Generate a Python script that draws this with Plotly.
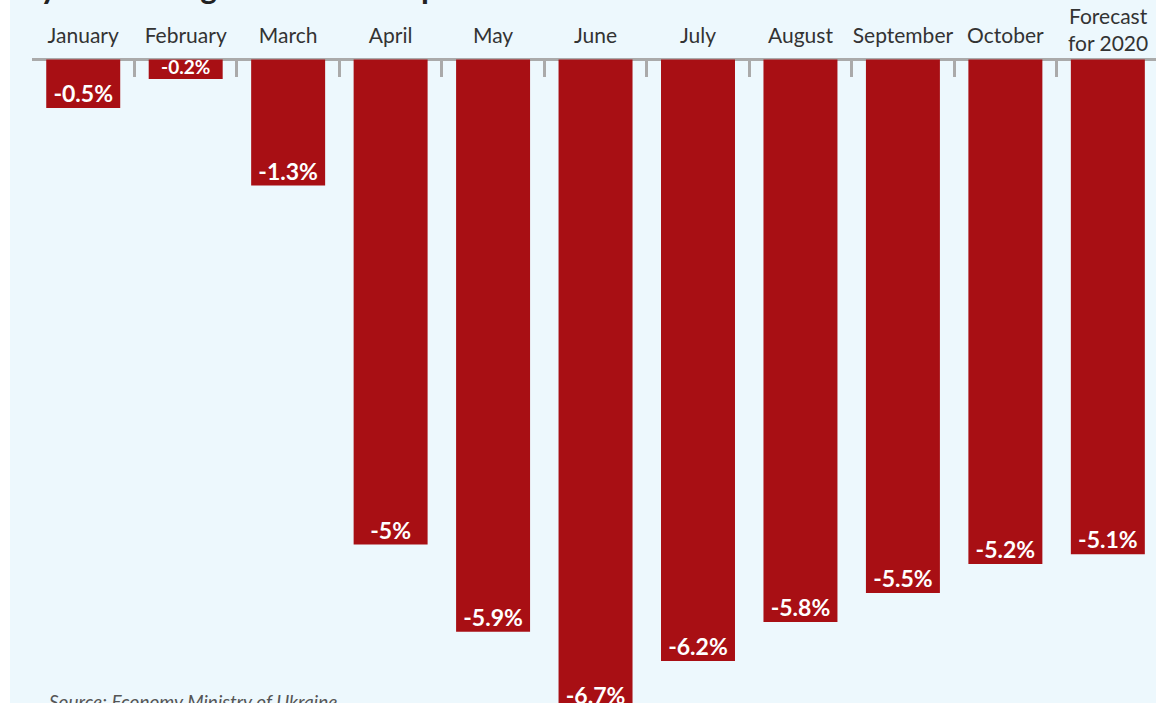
import plotly.graph_objects as go

# Month-on-month change of Ukraine's GDP in 2020, per cent
months = ["January", "February", "March", "April", "May", "June",
          "July", "August", "September", "October", "Forecast<br>for 2020"]
gdp_change = [-0.5, -0.2, -1.3, -5.0, -5.9, -6.7, -6.2, -5.8, -5.5, -5.2, -5.1]
bar_labels = [f"{v:g}%" for v in gdp_change]

title_text = "Dynamics of gross domestic product from month to month"
source_text = "Source: Economy Ministry of Ukraine"

BG = "#EDF8FD"
BAR = "#A80F14"
AXIS_GREY = "#AAAAAA"
TEXT_DARK = "#333333"
FONT = "Lato"

W, H = 1156, 703
ML, MT = 32, 58
PLOT_W = W - ML

# very short bars get a slightly smaller value label so it stays inside
label_sizes = [19 if abs(v) < 0.3 else 23 for v in gdp_change]

# two-line category names are written separately, hanging lower than the rest
axis_text = [m if "<br>" not in m else "" for m in months]

fig = go.Figure()

fig.add_trace(go.Bar(
    x=months,
    y=gdp_change,
    marker=dict(color=BAR, line=dict(width=0)),
    hoverinfo="skip",
))

# value labels sitting just inside the end of each bar
fig.add_trace(go.Scatter(
    x=months,
    y=gdp_change,
    mode="text",
    text=bar_labels,
    textposition="top center",
    textfont=dict(family=FONT, size=label_sizes, color="white", weight="bold"),
    cliponaxis=True,
    hoverinfo="skip",
))

fig.update_layout(
    width=W,
    height=H,
    margin=dict(l=ML, r=0, t=MT, b=0, pad=0, autoexpand=False),
    paper_bgcolor=BG,
    plot_bgcolor=BG,
    showlegend=False,
    bargap=0.278,
    font=dict(family=FONT, color=TEXT_DARK),
    xaxis=dict(
        side="top",
        type="category",
        range=[-0.5, 10.47],
        tickmode="array",
        tickvals=months,
        ticktext=axis_text,
        automargin=False,
        tickangle=0,
        showgrid=False,
        showline=False,
        zeroline=False,
        ticks="inside",
        tickson="boundaries",
        ticklen=19,
        tickwidth=2.5,
        tickcolor=AXIS_GREY,
        ticklabelstandoff=10,
        tickfont=dict(family=FONT, size=21, color=TEXT_DARK),
        fixedrange=True,
    ),
    yaxis=dict(
        range=[-6.634, 0.0155],
        automargin=False,
        showgrid=False,
        showticklabels=False,
        ticks="",
        showline=False,
        zeroline=True,
        zerolinecolor=AXIS_GREY,
        zerolinewidth=3,
        fixedrange=True,
    ),
)

for m in months:
    if "<br>" in m:
        fig.add_annotation(
            text=m, xref="x", yref="paper", x=m, y=1,
            xanchor="center", yanchor="bottom", yshift=1,
            showarrow=False,
            font=dict(family=FONT, size=21, color=TEXT_DARK),
        )

# white strip along the left edge of the graphic
fig.add_shape(
    type="rect", xref="paper", yref="paper",
    x0=-ML / PLOT_W, x1=-(ML - 10) / PLOT_W, y0=-0.01, y1=1.2,
    fillcolor="white", line=dict(width=0), layer="below",
)

# headline, sitting mostly above the top edge
fig.add_annotation(
    text=f"<b>{title_text}</b>",
    xref="paper", yref="paper",
    x=-(ML - 14) / PLOT_W, y=1, xanchor="left", yanchor="bottom",
    yshift=MT - 8,
    showarrow=False,
    font=dict(family=FONT, size=32, color="#222222"),
)

# source line at the bottom
fig.add_annotation(
    text=f"<i>{source_text}</i>",
    xref="paper", yref="paper",
    x=(47 - ML) / PLOT_W, y=0, xanchor="left", yanchor="middle",
    yshift=2,
    showarrow=False,
    font=dict(family=FONT, size=19, color="#555555"),
)

fig.write_html("out.html")
